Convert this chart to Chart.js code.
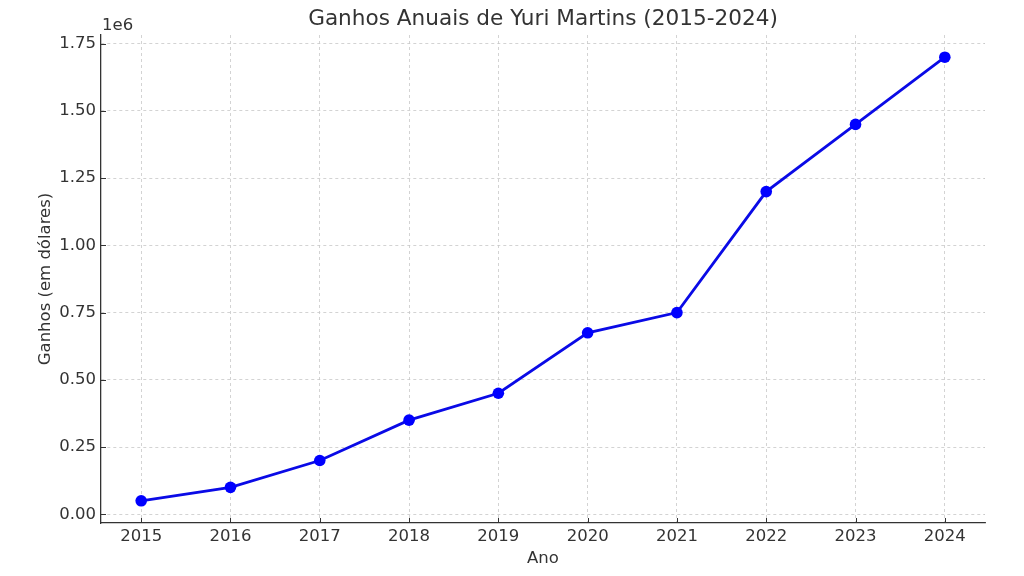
<!DOCTYPE html>
<html>
<head>
<meta charset="utf-8">
<script src="https://cdn.jsdelivr.net/npm/chart.js@4.4.0/dist/chart.umd.min.js"></script>
<style>
  html, body { margin: 0; padding: 0; background: #fff; }
  #wrap { width: 1024px; height: 576px; }
</style>
</head>
<body>
<div id="wrap"><canvas id="grafico"></canvas></div>
<script>
// -- Ganhos anuais --
const anos = [2015, 2016, 2017, 2018, 2019, 2020, 2021, 2022, 2023, 2024];
const ganhos = [50000, 100000, 200000, 350000, 450000, 675000, 750000, 1200000, 1450000, 1700000];
const ticksY = [0, 250000, 500000, 750000, 1000000, 1250000, 1500000, 1750000];

const titulo = 'Ganhos Anuais de Yuri Martins (2015-2024)';
const fonte = "'DejaVu Sans', sans-serif";
const corTexto = '#333333';

Chart.defaults.font.family = fonte;
Chart.defaults.color = corTexto;

// titulo, "1e6" e tracinhos para dentro, como no matplotlib
const extras = {
  id: 'extras',
  afterDraw(chart) {
    const { ctx, chartArea: a, scales: { x, y } } = chart;
    ctx.save();
    ctx.strokeStyle = corTexto;
    ctx.lineWidth = 1;
    ctx.beginPath();
    anos.forEach(v => {
      const px = Math.round(x.getPixelForValue(v)) + 0.5;
      ctx.moveTo(px, a.bottom);
      ctx.lineTo(px, a.bottom - 5);
    });
    ticksY.forEach(v => {
      const py = Math.round(y.getPixelForValue(v)) + 0.5;
      ctx.moveTo(a.left, py);
      ctx.lineTo(a.left + 5, py);
    });
    ctx.stroke();

    ctx.fillStyle = corTexto;
    ctx.font = `21.6px ${fonte}`;
    ctx.textAlign = 'center';
    ctx.textBaseline = 'middle';
    ctx.fillText(titulo, (a.left + a.right) / 2, 19);

    ctx.font = `16.5px ${fonte}`;
    ctx.textAlign = 'left';
    ctx.textBaseline = 'alphabetic';
    ctx.fillText('1e6', a.left + 1, 30);
    ctx.restore();
  }
};

new Chart(document.getElementById('grafico'), {
  type: 'line',
  data: {
    datasets: [{
      data: anos.map((a, i) => ({ x: a, y: ganhos[i] })),
      borderColor: '#0a0ae6',
      backgroundColor: '#0000ff',
      borderWidth: 2.8,
      pointRadius: 5.8,
      pointBorderWidth: 0,
      pointBackgroundColor: '#0000ff',
      tension: 0
    }]
  },
  options: {
    responsive: true,
    maintainAspectRatio: false,
    animation: false,
    layout: { padding: { left: 0, right: 39, top: 35, bottom: 0 } },
    plugins: {
      legend: { display: false },
      tooltip: { enabled: false }
    },
    scales: {
      x: {
        type: 'linear',
        min: 2014.55,
        max: 2024.45,
        afterBuildTicks: s => { s.ticks = anos.map(v => ({ value: v })); },
        afterFit: s => { s.height = 53; },
        ticks: {
          font: { size: 16.5 },
          color: corTexto,
          padding: 4,
          maxRotation: 0,
          callback: v => String(v)
        },
        grid: { color: '#c8c8c8', lineWidth: 0.8, tickLength: 0, drawTicks: false },
        border: { display: true, color: '#333333', width: 1.3, dash: [3, 3] },
        title: { display: true, text: 'Ano', font: { size: 16.5 }, color: corTexto, padding: { top: 0, bottom: 7 } }
      },
      y: {
        type: 'linear',
        min: -32500,
        max: 1782500,
        afterBuildTicks: s => { s.ticks = ticksY.map(v => ({ value: v })); },
        afterFit: s => { s.width = 101; },
        ticks: {
          font: { size: 16.5 },
          color: corTexto,
          padding: 5,
          callback: v => (v / 1e6).toFixed(2)
        },
        grid: { color: '#c8c8c8', lineWidth: 0.8, tickLength: 0, drawTicks: false },
        border: { display: true, color: '#333333', width: 1.3, dash: [3, 3] },
        title: { display: true, text: 'Ganhos (em dólares)', font: { size: 16.5 }, color: corTexto, padding: { top: 36, bottom: 0 } }
      }
    }
  },
  plugins: [extras]
});
</script>
</body>
</html>
